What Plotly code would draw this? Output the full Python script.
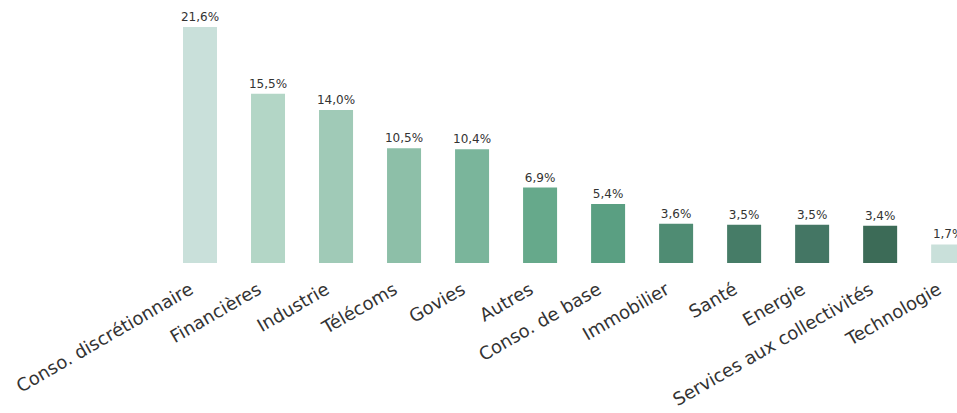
import plotly.graph_objects as go

categories = ["Conso. discrétionnaire", "Financières", "Industrie", "Télécoms", "Govies",
              "Autres", "Conso. de base", "Immobilier", "Santé", "Energie",
              "Services aux collectivités", "Technologie"]
values = [21.6, 15.5, 14.0, 10.5, 10.4, 6.9, 5.4, 3.6, 3.5, 3.5, 3.4, 1.7]
labels = ["21,6%", "15,5%", "14,0%", "10,5%", "10,4%", "6,9%", "5,4%", "3,6%",
          "3,5%", "3,5%", "3,4%", "1,7%"]
colors = ["#c9e0da", "#b3d6c6", "#a0cab7", "#8dbfa8", "#7ab59b", "#66a98b",
          "#5a9f82", "#4f8c73", "#467c67", "#447664", "#3c6b57", "#c9e0da"]

fig = go.Figure(go.Bar(
    x=categories, y=values, text=labels, textposition="outside",
    marker=dict(color=colors, line=dict(width=0)),
    width=0.5, cliponaxis=False, constraintext="none",
    textfont=dict(size=12, color="#333333", family="DejaVu Sans"),
))

fig.update_layout(
    width=957, height=413,
    margin=dict(l=166, r=0, t=27, b=150),
    paper_bgcolor="white", plot_bgcolor="white",
    showlegend=False,
    font=dict(family="DejaVu Sans", color="#333333"),
    xaxis=dict(range=[-0.5, 11.13], tickangle=-30, showgrid=False, showline=False,
               zeroline=False, ticks="", automargin=False,
               ticklabelshift=-10, ticklabelstandoff=12,
               tickfont=dict(size=18, color="#333333")),
    yaxis=dict(range=[0, 21.6], visible=False, showgrid=False, automargin=False),
    bargap=0.5,
)

fig.write_html("out.html", config={"displayModeBar": False},
               post_script="document.body.style.margin='0';document.body.style.overflow='hidden';")
